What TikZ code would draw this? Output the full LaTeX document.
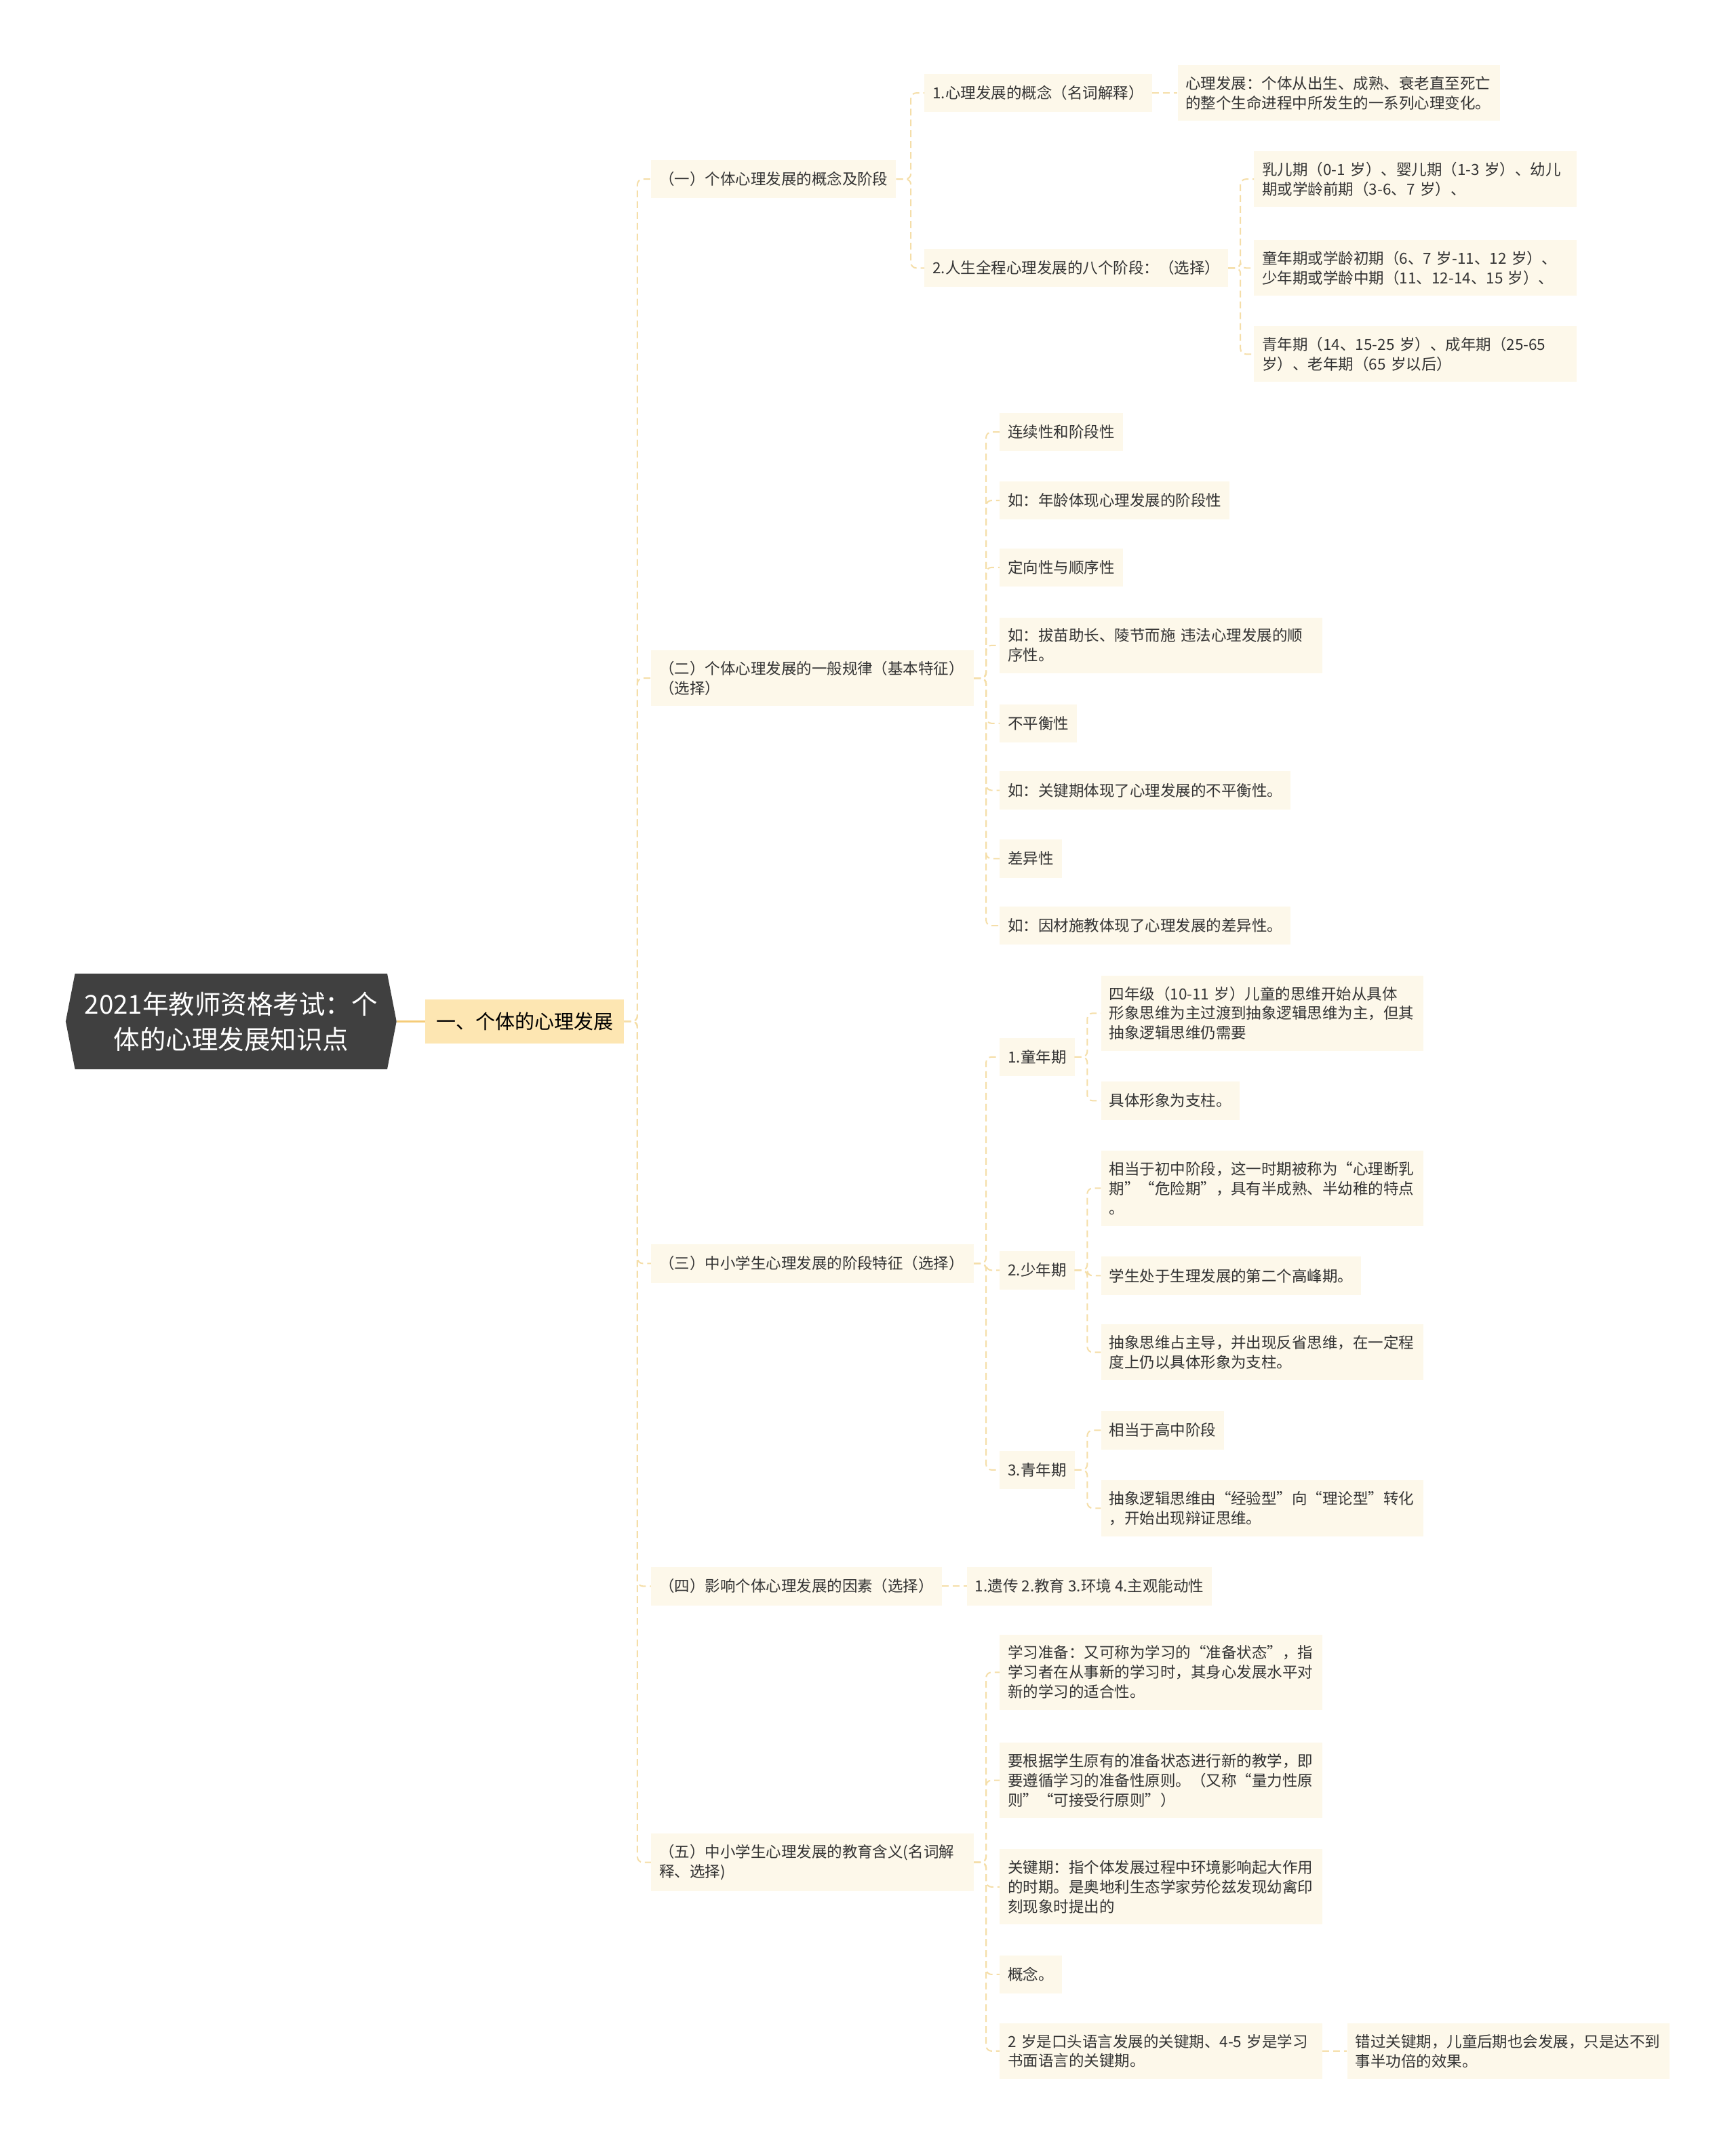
\documentclass[tikz,border=0pt]{standalone}
\usepackage{fontspec}
\setmainfont{Noto Sans CJK SC}
\usetikzlibrary{shapes.symbols}
\definecolor{leafc}{RGB}{253,248,234}
\definecolor{mainc}{RGB}{253,230,178}
\definecolor{connc}{RGB}{245,222,168}
\definecolor{rootline}{RGB}{245,204,120}
\definecolor{rootc}{RGB}{64,64,64}
\definecolor{txtc}{RGB}{51,51,51}
\tikzset{
  leaf/.style={fill=leafc, text=txtc, font=\fontsize{22.5pt}{29pt}\selectfont,
    inner xsep=12pt, inner ysep=16pt, minimum height=56.5pt, align=left, anchor=west},
  wide/.style={text width=452pt},
  mainnode/.style={fill=mainc, text=black, font=\fontsize{29pt}{36pt}\selectfont,
    inner xsep=16pt, inner ysep=10pt, minimum height=64.5pt, anchor=west},
  rootnode/.style={shape=signal, signal to=east and west, signal pointer angle=158,
    fill=rootc, text=white, font=\fontsize{38.5pt}{52pt}\selectfont, align=center,
    minimum width=488pt, minimum height=141pt, inner sep=0pt},
  conn/.style={draw=connc, line width=2pt, dash pattern=on 10pt off 6pt, rounded corners=8pt},
  rootconn/.style={draw=rootline, line width=3.5pt}
}
\newcommand\linkto[2]{\draw[conn] (#1.east) -| ([xshift=-20pt]#2.west) -- (#2.west);}
\begin{document}
\begin{tikzpicture}[x=2.0173pt,y=-2.0173pt]
\useasboundingbox[fill=white] (0,0) rectangle (1269,1568);

\node[rootnode] (root) at (169,747) {2021年教师资格考试：个\\体的心理发展知识点};
\node[mainnode] (L1) at (311,747) {一、个体的心理发展};

\node[leaf] (A1) at (476,131) {（一）个体心理发展的概念及阶段};
\node[leaf,wide] (A2) at (476,496) {（二）个体心理发展的一般规律（基本特征）\\（选择）};
\node[leaf,wide] (A3) at (476,924) {（三）中小学生心理发展的阶段特征（选择）};
\node[leaf] (A4) at (476,1160) {（四）影响个体心理发展的因素（选择）};
\node[leaf,wide] (A5) at (476,1362) {（五）中小学生心理发展的教育含义(名词解\\释、选择)};

\node[leaf] (B1) at (676,68) {1.心理发展的概念（名词解释）};
\node[leaf] (B2) at (676,196) {2.人生全程心理发展的八个阶段：（选择）};
\node[leaf,wide] (C1) at (861,68) {心理发展：个体从出生、成熟、衰老直至死亡\\的整个生命进程中所发生的一系列心理变化。};
\node[leaf,wide] (C2) at (917,131) {乳儿期（0-1 岁）、婴儿期（1-3 岁）、幼儿\\期或学龄前期（3-6、7 岁）、};
\node[leaf,wide] (C3) at (917,196) {童年期或学龄初期（6、7 岁-11、12 岁）、\\少年期或学龄中期（11、12-14、15 岁）、};
\node[leaf,wide] (C4) at (917,259) {青年期（14、15-25 岁）、成年期（25-65\\岁）、老年期（65 岁以后）};

\node[leaf] (D1) at (731,316) {连续性和阶段性};
\node[leaf] (D2) at (731,366) {如：年龄体现心理发展的阶段性};
\node[leaf] (D3) at (731,415) {定向性与顺序性};
\node[leaf,wide] (D4) at (731,472) {如：拔苗助长、陵节而施 违法心理发展的顺\\序性。};
\node[leaf] (D5) at (731,529) {不平衡性};
\node[leaf] (D6) at (731,578) {如：关键期体现了心理发展的不平衡性。};
\node[leaf] (D7) at (731,628) {差异性};
\node[leaf] (D8) at (731,677) {如：因材施教体现了心理发展的差异性。};

\node[leaf] (E1) at (731,773) {1.童年期};
\node[leaf] (E2) at (731,929) {2.少年期};
\node[leaf] (E3) at (731,1075) {3.青年期};
\node[leaf,wide] (F1) at (805,741) {四年级（10-11 岁）儿童的思维开始从具体\\形象思维为主过渡到抽象逻辑思维为主，但其\\抽象逻辑思维仍需要};
\node[leaf] (F2) at (805,805) {具体形象为支柱。};
\node[leaf,wide] (F3) at (805,869) {相当于初中阶段，这一时期被称为“心理断乳\\期”“危险期”，具有半成熟、半幼稚的特点\\。};
\node[leaf] (F4) at (805,933) {学生处于生理发展的第二个高峰期。};
\node[leaf,wide] (F5) at (805,989) {抽象思维占主导，并出现反省思维，在一定程\\度上仍以具体形象为支柱。};
\node[leaf] (F6) at (805,1046) {相当于高中阶段};
\node[leaf,wide] (F7) at (805,1103) {抽象逻辑思维由“经验型”向“理论型”转化\\，开始出现辩证思维。};

\node[leaf] (G1) at (707,1160) {1.遗传 2.教育 3.环境 4.主观能动性};

\node[leaf,wide] (H1) at (731,1223) {学习准备：又可称为学习的“准备状态”，指\\学习者在从事新的学习时，其身心发展水平对\\新的学习的适合性。};
\node[leaf,wide] (H2) at (731,1302) {要根据学生原有的准备状态进行新的教学，即\\要遵循学习的准备性原则。（又称“量力性原\\则”“可接受行原则”）};
\node[leaf,wide] (H3) at (731,1380) {关键期：指个体发展过程中环境影响起大作用\\的时期。是奥地利生态学家劳伦兹发现幼禽印\\刻现象时提出的};
\node[leaf] (H4) at (731,1444) {概念。};
\node[leaf,wide] (H5) at (731,1500) {2 岁是口头语言发展的关键期、4-5 岁是学习\\书面语言的关键期。};
\node[leaf,wide] (H6) at (985,1500) {错过关键期，儿童后期也会发展，只是达不到\\事半功倍的效果。};

\draw[rootconn] (root.east) -- (L1.west);
\foreach \c in {A1,A2,A3,A4,A5} {\linkto{L1}{\c}}
\linkto{A1}{B1}
\linkto{A1}{B2}
\draw[conn] (B1.east) -- (C1.west);
\foreach \c in {C2,C3,C4} {\linkto{B2}{\c}}
\foreach \c in {D1,D2,D3,D4,D5,D6,D7,D8} {\linkto{A2}{\c}}
\foreach \c in {E1,E2,E3} {\linkto{A3}{\c}}
\linkto{E1}{F1}
\linkto{E1}{F2}
\foreach \c in {F3,F4,F5} {\linkto{E2}{\c}}
\linkto{E3}{F6}
\linkto{E3}{F7}
\draw[conn] (A4.east) -- (G1.west);
\foreach \c in {H1,H2,H3,H4,H5} {\linkto{A5}{\c}}
\draw[conn] (H5.east) -- (H6.west);
\end{tikzpicture}
\end{document}
